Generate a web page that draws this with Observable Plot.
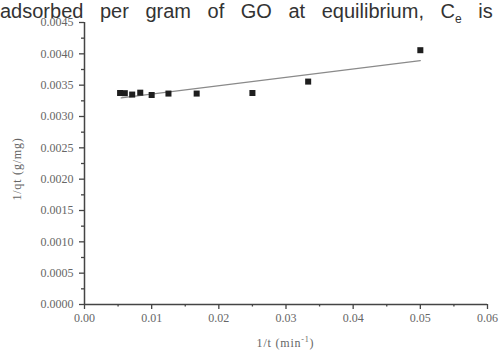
<!DOCTYPE html>
<html>
<head>
<meta charset="utf-8">
<script src="https://cdn.jsdelivr.net/npm/d3@7"></script>
<script src="https://cdn.jsdelivr.net/npm/@observablehq/plot@0.6"></script>
<style>
  html, body { margin: 0; padding: 0; background: #fff; }
  #wrap { position: relative; width: 500px; height: 351px; overflow: hidden; }
  #title {
    position: absolute; left: 0; top: 0; white-space: nowrap; line-height: 22px;
    font-family: "Liberation Sans", Arial, sans-serif; font-size: 20px; color: #333;
    word-spacing: 11px; z-index: 2;
  }
  #title sub { font-size: 12px; vertical-align: -5px; margin-right: 0px; }
</style>
</head>
<body>
<div id="wrap">
  <div id="title">adsorbed per gram of GO at equilibrium, C<sub>e</sub> is</div>
  <div id="chart"></div>
</div>
<script>
// Data
const invT = [0.0053, 0.0060, 0.0071, 0.0083, 0.0100, 0.0125, 0.0167, 0.0250, 0.0333, 0.0500];
const invQ = [0.003375, 0.003372, 0.003350, 0.003380, 0.003343, 0.003366, 0.003366, 0.003375, 0.003557, 0.004058];
// Fitted line end points
const fitX = [0.00546, 0.0500];
const fitY = [0.003296, 0.003893];
// Tick values
const xTicks = [0, 0.01, 0.02, 0.03, 0.04, 0.05, 0.06];
const xMinor = [0.005, 0.015, 0.025, 0.035, 0.045, 0.055];
const yTicks = [0, 0.0005, 0.0010, 0.0015, 0.0020, 0.0025, 0.0030, 0.0035, 0.0040, 0.0045];
const yMinor = [0.00025, 0.00075, 0.00125, 0.00175, 0.00225, 0.00275, 0.00325, 0.00375, 0.00425];
const yLabel = "1/qt (g/mg)";
const xLabel = ["1/t (min", "-1", ")"];

const points = invT.map((x, i) => ({x, y: invQ[i]}));
const fit = fitX.map((x, i) => ({x, y: fitY[i]}));

const serif = "'Liberation Serif', 'Times New Roman', serif";
const axisColor = "#444";
const textColor = "#666";

function xAxisLabel(index, scales, values, dims) {
  const g = d3.create("svg:g");
  const cx = (dims.marginLeft + dims.width - dims.marginRight) / 2;
  const t = g.append("text")
    .attr("x", cx).attr("y", dims.height - 4)
    .attr("text-anchor", "middle")
    .attr("font-family", serif).attr("font-size", 12)
    .attr("letter-spacing", "0.8px")
    .attr("fill", textColor);
  t.append("tspan").text(xLabel[0]);
  t.append("tspan").attr("dy", -5).attr("font-size", 8).text(xLabel[1]);
  t.append("tspan").attr("dy", 5).text(xLabel[2]);
  return g.node();
}

function yAxisLabel(index, scales, values, dims) {
  const g = d3.create("svg:g");
  const cy = (dims.marginTop + dims.height - dims.marginBottom) / 2 + 6;
  g.append("text")
    .attr("transform", `translate(21,${cy}) rotate(-90)`)
    .attr("text-anchor", "middle")
    .attr("font-family", serif).attr("font-size", 12)
    .attr("letter-spacing", "0.8px")
    .attr("fill", textColor)
    .text(yLabel);
  return g.node();
}

const chart = Plot.plot({
  width: 500,
  height: 351,
  marginLeft: 84,
  marginRight: 13,
  marginTop: 22,
  marginBottom: 47,
  style: {fontFamily: serif, fontSize: "12px", color: textColor, background: "transparent"},
  x: {domain: [0, 0.06]},
  y: {domain: [0, 0.0045]},
  marks: [
    Plot.ruleY([0], {stroke: axisColor, strokeWidth: 1.5}),
    Plot.ruleX([0], {stroke: axisColor, strokeWidth: 1.5}),
    Plot.axisX({ticks: xTicks, tickFormat: d3.format(".2f"), tickSize: 5, tickPadding: 4, stroke: axisColor, strokeWidth: 1.3, label: null, fill: textColor, letterSpacing: 1.5}),
    Plot.axisX({ticks: xMinor, tickFormat: () => "", tickSize: 2.5, stroke: axisColor, strokeWidth: 1.3, label: null}),
    Plot.axisY({ticks: yTicks, tickFormat: d3.format(".4f"), tickSize: 5, tickPadding: 6, stroke: axisColor, strokeWidth: 1.3, label: null, fill: textColor, letterSpacing: 1.8}),
    Plot.axisY({ticks: yMinor, tickFormat: () => "", tickSize: 3, stroke: axisColor, strokeWidth: 1.3, label: null}),
    Plot.line(fit, {x: "x", y: "y", stroke: "#8a8a8a", strokeWidth: 1.2}),
    Plot.dot(points, {x: "x", y: "y", symbol: "square", r: 3.4, fill: "#1e1e1e", stroke: "none"}),
    xAxisLabel,
    yAxisLabel
  ]
});
document.getElementById("chart").appendChild(chart);
</script>
</body>
</html>
